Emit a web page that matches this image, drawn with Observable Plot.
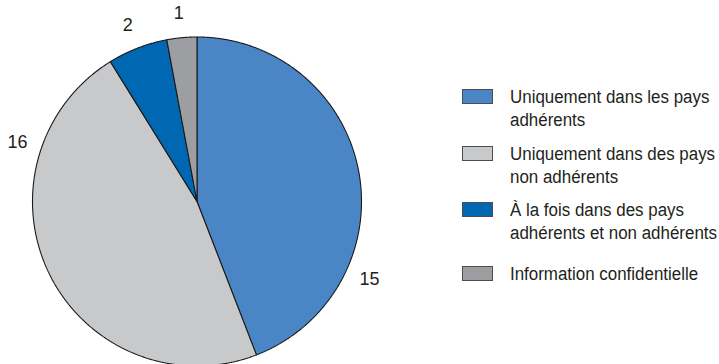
<!DOCTYPE html>
<html><head><meta charset="utf-8">
<script src="https://cdn.jsdelivr.net/npm/d3@7"></script>
<script src="https://cdn.jsdelivr.net/npm/@observablehq/plot@0.6"></script>
<style>
body{margin:0;background:#fff;}
#wrap{position:relative;width:719px;height:364px;overflow:hidden;}
#wrap svg{position:absolute;left:0;top:0;}
.item{position:absolute;left:462px;font-family:"Liberation Sans",Arial,sans-serif;font-size:18px;line-height:22.5px;color:#231f20;white-space:nowrap;}
.sw{position:absolute;left:0;top:0;width:31px;height:15px;box-sizing:border-box;border:1.5px solid #4d4d4f;}
.tx{position:absolute;left:47.5px;top:-2.6px;transform:scaleX(0.94);transform-origin:0 0;}
</style></head><body><div id="wrap"></div>
<script>
const categories = [
  "Uniquement dans les pays adhérents",
  "Uniquement dans des pays non adhérents",
  "À la fois dans des pays adhérents et non adhérents",
  "Information confidentielle"
];
const legendLines = [
  ["Uniquement dans les pays", "adhérents"],
  ["Uniquement dans des pays", "non adhérents"],
  ["À la fois dans des pays", "adhérents et non adhérents"],
  ["Information confidentielle"]
];
const values = [15, 16, 2, 1];
const colors = ["#4a86c6", "#c8c9cb", "#0068b3", "#9c9ea1"];

// layout (not data)
const labelAngles = [114.3, 288.3, 338.5, 354.5];
const labelRadius = 1.15;
const legendTops = [89, 146, 202, 266];

const total = d3.sum(values);
const poly = [];
let acc = 0;
values.forEach((v, i) => {
  const a0 = acc / total * 2 * Math.PI;
  acc += v;
  const a1 = acc / total * 2 * Math.PI;
  const k = categories[i];
  poly.push({x: 0, y: 0, k});
  const n = Math.max(4, Math.ceil((a1 - a0) / 0.005));
  for (let j = 0; j <= n; j++) {
    const a = a0 + (a1 - a0) * j / n;
    poly.push({x: Math.sin(a), y: Math.cos(a), k});
  }
  poly.push({x: 0, y: 0, k});
});
const labels = values.map((v, i) => {
  const a = labelAngles[i] * Math.PI / 180;
  return {x: labelRadius * Math.sin(a), y: labelRadius * Math.cos(a), t: String(v)};
});

const chart = Plot.plot({
  width: 719,
  height: 364,
  x: {domain: [-1, 1], range: [32, 361], axis: null},
  y: {domain: [-1, 1], range: [365.5, 36.5], axis: null},
  color: {domain: categories, range: colors},
  style: {fontFamily: "'Liberation Sans',Arial,sans-serif", background: "#fff"},
  marks: [
    Plot.line(poly, {x: "x", y: "y", z: "k", fill: "k", stroke: "#1a1a1a", strokeWidth: 1.1, curve: "linear", strokeLinejoin: "miter"}),
    Plot.text(labels, {x: "x", y: "y", text: "t", fontSize: 18, fill: "#231f20"})
  ]
});
const wrap = document.getElementById("wrap");
wrap.appendChild(chart);
legendLines.forEach((lines, i) => {
  const it = document.createElement("div");
  it.className = "item";
  it.style.top = legendTops[i] + "px";
  const sw = document.createElement("div");
  sw.className = "sw";
  sw.style.background = colors[i];
  const tx = document.createElement("div");
  tx.className = "tx";
  tx.innerHTML = lines.join("<br>");
  it.appendChild(sw); it.appendChild(tx);
  wrap.appendChild(it);
});
</script></body></html>
